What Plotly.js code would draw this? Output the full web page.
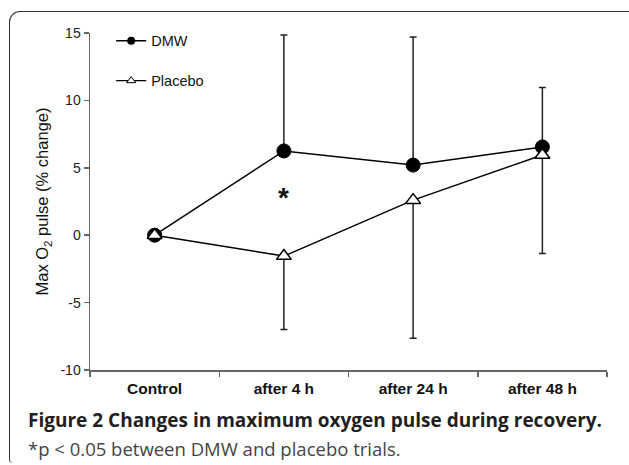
<!DOCTYPE html>
<html>
<head>
<meta charset="utf-8">
<script src="https://cdn.plot.ly/plotly-3.0.1.min.js"></script>
<style>
  html, body { margin: 0; padding: 0; background: #ffffff; }
  #wrap { position: relative; width: 629px; height: 465px; overflow: hidden; }
  #frame { position: absolute; left: 9px; top: 11px; width: 640px; height: 452px;
           border-top: 1.6px solid #333; border-left: 1.6px solid #333;
           border-top-left-radius: 11px; border-bottom-left-radius: 4px; box-sizing: border-box; }
  #chart { position: absolute; left: 0; top: 0; width: 629px; height: 465px; }
</style>
</head>
<body>
<div id="wrap">
  <div id="frame"></div>
  <div id="chart"></div>
</div>
<script>
const categories = ['Control', 'after 4 h', 'after 24 h', 'after 48 h'];
const dmwValues = [0, 6.25, 5.2, 6.55];
const dmwErrUp = [0, 8.6, 9.5, 4.4];
const placeboValues = [0, -1.55, 2.6, 5.95];
const placeboErrDown = [0, 5.45, 10.25, 7.3];
const yTicks = [-10, -5, 0, 5, 10, 15];
const yTickLabels = ['-10', '-5', '0', '5', '10', '15'];
const seriesNames = ['DMW', 'Placebo'];

const traces = [
  {
    x: categories, y: dmwValues, name: seriesNames[0], type: 'scatter', mode: 'lines+markers',
    showlegend: false,
    line: {color: '#000', width: 1.5},
    marker: {symbol: 'circle', size: 14, color: '#000', line: {color: '#000', width: 1}},
    error_y: {type: 'data', symmetric: false, array: dmwErrUp, arrayminus: dmwErrUp.map(() => 0),
              color: '#222', thickness: 1.5, width: 3.5}
  },
  {
    x: categories, y: placeboValues, name: seriesNames[1], type: 'scatter', mode: 'lines+markers',
    showlegend: false,
    line: {color: '#000', width: 1.5},
    marker: {symbol: 'triangle-up', size: 13, color: '#fff', line: {color: '#000', width: 1.5}},
    error_y: {type: 'data', symmetric: false, array: placeboErrDown.map(() => 0), arrayminus: placeboErrDown,
              color: '#222', thickness: 1.5, width: 3.5}
  },
  // legend entries (small symbols as in the reference)
  {
    x: [null], y: [null], name: seriesNames[0], type: 'scatter', mode: 'lines+markers',
    legendgroup: 'a', showlegend: true,
    line: {color: '#000', width: 1.5},
    marker: {symbol: 'circle', size: 8, color: '#000'}
  },
  {
    x: [null], y: [null], name: seriesNames[1], type: 'scatter', mode: 'lines+markers',
    legendgroup: 'b', showlegend: true,
    line: {color: '#000', width: 1.2},
    marker: {symbol: 'triangle-up', size: 8, color: '#fff', line: {color: '#000', width: 1}}
  }
];

const layout = {
  width: 629, height: 465,
  margin: {l: 90, r: 22, t: 33, b: 95},
  paper_bgcolor: 'rgba(0,0,0,0)', plot_bgcolor: 'rgba(0,0,0,0)',
  font: {family: 'Arial, Liberation Sans, sans-serif', color: '#111'},
  showlegend: true,
  legend: {x: 0.041, y: 1.024, xanchor: 'left', yanchor: 'top', bgcolor: 'rgba(0,0,0,0)',
           font: {size: 14.5, color: '#111'}, tracegroupgap: 18, traceorder: 'grouped'},
  xaxis: {
    type: 'category', range: [-0.5, 3.5], showline: true, linecolor: '#666', linewidth: 1.5,
    ticks: 'outside', tickson: 'boundaries', ticklen: 5, tickcolor: '#666', tickwidth: 1.5,
    showgrid: false, zeroline: false, fixedrange: true, ticklabelstandoff: 4,
    tickfont: {size: 15.5, family: 'Arial, Liberation Sans, sans-serif', color: '#111', weight: 'bold'}
  },
  yaxis: {
    range: [-10, 15], tickvals: yTicks, ticktext: yTickLabels, showline: true, linecolor: '#666', linewidth: 1.5,
    ticks: 'outside', ticklen: 5, tickcolor: '#666', tickwidth: 1.5,
    showgrid: false, zeroline: false, fixedrange: true,
    tickfont: {size: 14, color: '#222'},
    title: {text: 'Max O<sub>2</sub> pulse (% change)', font: {size: 16.5, color: '#111'}, standoff: 7}
  },
  annotations: [
    {x: 'after 4 h', y: 3.1, xref: 'x', yref: 'y', text: '<b>*</b>', showarrow: false,
     font: {size: 28, color: '#111', family: 'Arial, Liberation Sans, sans-serif'}, yshift: -4},
    {x: -0.124, y: -0.148, xref: 'paper', yref: 'paper', xanchor: 'left', yanchor: 'middle',
     text: '<b>Figure 2 Changes in maximum oxygen pulse during recovery.</b>', showarrow: false,
     font: {size: 19, family: 'Open Sans, sans-serif', color: '#231f20'}},
    {x: -0.124, y: -0.232, xref: 'paper', yref: 'paper', xanchor: 'left', yanchor: 'middle',
     text: '*p < 0.05 between DMW and placebo trials.', showarrow: false,
     font: {size: 18.5, family: 'Open Sans, sans-serif', color: '#444'}}
  ]
};

Plotly.newPlot('chart', traces, layout, {displayModeBar: false, staticPlot: true});
</script>
</body>
</html>
